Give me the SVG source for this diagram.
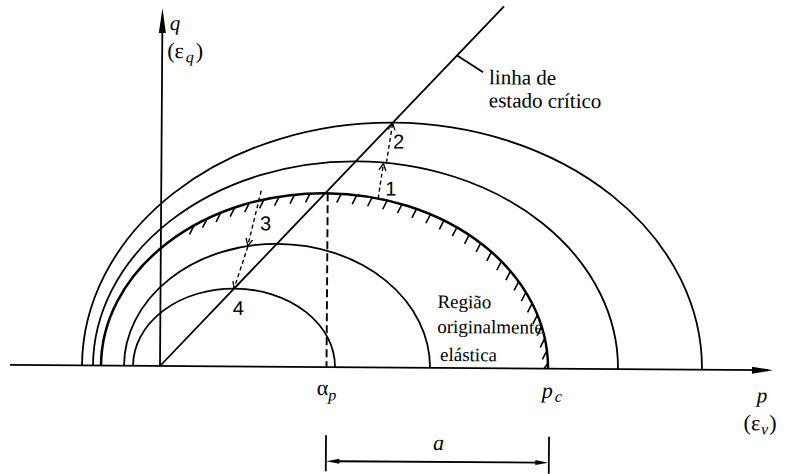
<svg xmlns="http://www.w3.org/2000/svg" width="788" height="474" viewBox="0 0 788 474">
<defs>
<style>
.ln{fill:none;stroke:#000;stroke-width:1.8}
.thick{stroke-width:2.5}
.hatch{fill:none;stroke:#000;stroke-width:1.6}
.dash{fill:none;stroke:#000;stroke-width:1.4;stroke-dasharray:4 3}
.vd{fill:none;stroke:#000;stroke-width:1.9;stroke-dasharray:8 4}
.t{font-family:"Liberation Serif","Times New Roman",serif;fill:#000}
.i{font-style:italic}
.n{font-family:"Liberation Sans",Arial,sans-serif;font-size:20px;fill:#000}
</style>
<marker id="v" markerUnits="userSpaceOnUse" markerWidth="10" markerHeight="10" refX="7" refY="4" orient="auto"><path d="M0,0.5 L7,4 L0,7.5" fill="none" stroke="#000" stroke-width="1.3"/></marker>
</defs>
<rect width="788" height="474" fill="#fff"/>
<g transform="rotate(0.4 160 366)">
<g id="axes">
<path class="ln" d="M10,366 L768,366 M160,366 L160,30"/>
<polygon points="773,366 752,362.5 752,369.5" fill="#000"/>
<polygon points="160,8 156.5,33 163.5,33" fill="#000"/>
<text class="t i" x="167.5" y="30" font-size="21">q</text>
<text class="t" x="165" y="58" font-size="22">(ε<tspan class="i" font-size="16" dx="2" dy="4">q</tspan><tspan dx="2" dy="-4">)</tspan></text>
<text class="t i" x="757" y="398" font-size="21">p</text>
<text class="t" x="744" y="426" font-size="22">(ε<tspan class="i" font-size="16" dx="1" dy="4">v</tspan><tspan dx="1" dy="-4">)</tspan></text>
</g>
<g id="surface-1"><path class="ln" d="M133,366 A101,78 0 0 1 335,366"/></g>
<g id="surface-2"><path class="ln" d="M124,366 A153,123 0 0 1 430,366"/></g>
<g id="surface-initial">
<path class="ln thick" d="M101,366 A223.5,174 0 0 1 548,366"/>
<path class="hatch" d="M547.9,360.5l-4,5.5M546.8,347.8l-4.5,9M544.6,335.8l-4.5,9M541.4,323.9l-4.5,9M537.1,312.2l-4.5,9M531.7,300.8l-4.5,9M525.4,289.7l-4.5,9M518.1,279l-4.5,9M509.8,268.7l-4.5,9M500.6,258.9l-4.5,9M490.6,249.6l-4.5,9M479.8,240.8l-4.5,9M468.2,232.7l-4.5,9M455.9,225.2l-4.5,9M442.9,218.4l-4.5,9M429.4,212.4l-4.5,9M415.4,207.1l-4.5,9M400.9,202.5l-4.5,9M386.1,198.7l-4.5,9M371,195.8l-4.5,9M355.6,193.7l-4.5,9M340.1,192.4l-4.5,9M308.9,192.4l-4.5,9M293.4,193.7l-4.5,9M278,195.8l-4.5,9M262.9,198.7l-4.5,9M248.1,202.5l-4.5,9M233.6,207.1l-4.5,9M219.6,212.4l-4.5,9M206.1,218.4l-4.5,9M193.1,225.2l-4.5,9"/>
<text class="t" font-size="19"><tspan x="437" y="306">Região</tspan><tspan x="437" y="331">originalmente</tspan><tspan x="440" y="359">elástica</tspan></text>
</g>
<g id="surface-4"><path class="ln" d="M93,366 A262.5,206 0 0 1 618,366"/></g>
<g id="surface-5"><path class="ln" d="M82,366 A310,245 0 0 1 702,366"/></g>
<g id="csl">
<path class="ln" stroke-width="2.4" d="M160,366 L501.5,4"/>
<path class="ln" d="M455,53.5 L481,70"/>
<text class="t" font-size="21"><tspan x="487" y="82">linha de</tspan><tspan x="487" y="105">estado crítico</tspan></text>
</g>
<g id="connectors">
<path class="vd" d="M326.5,192 L326.5,366"/>
<path class="dash" d="M377,197 L382,162" marker-end="url(#v)"/>
<path class="dash" d="M385,161 L391,121.5" marker-end="url(#v)"/>
<path class="dash" d="M260,190 L247,245" marker-end="url(#v)"/>
<path class="dash" d="M247,246 L233.5,288" marker-end="url(#v)"/>
</g>
<g id="points">
<text class="n" x="384" y="194">1</text>
<text class="n" x="391.5" y="147">2</text>
<text class="n" x="259" y="229.5">3</text>
<text class="n" x="232.5" y="314.5">4</text>
</g>
<g id="p-labels">
<text class="t" x="317" y="394" font-size="22">α<tspan class="i" font-size="16" dy="5">p</tspan></text>
<text class="t i" x="542" y="395" font-size="22">p<tspan font-size="16" dx="2" dy="4">c</tspan></text>
</g>
<g id="dimension">
<path class="ln" d="M326.5,434 L326.5,470 M549.5,434 L549.5,471 M338,460 L538,460"/>
<polygon points="327,460 340,457.5 340,462.5" fill="#000"/>
<polygon points="549,460 536,457.5 536,462.5" fill="#000"/>
<text class="t i" x="433.5" y="448" font-size="22">a</text>
</g>
</g>
</svg>
